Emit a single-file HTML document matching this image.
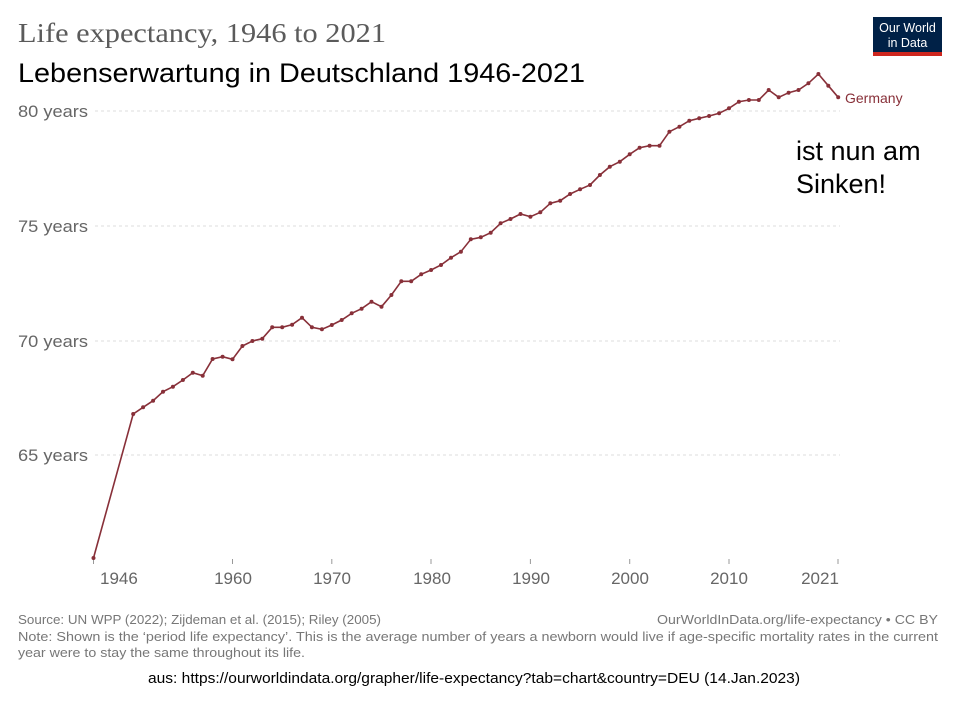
<!DOCTYPE html>
<html><head><meta charset="utf-8"><style>
html,body{margin:0;padding:0;background:#fff;width:960px;height:703px;overflow:hidden}
svg{display:block}
</style></head><body>
<svg width="960" height="703" viewBox="0 0 960 703" xmlns="http://www.w3.org/2000/svg">
<text x="18" y="42" font-family="Liberation Serif, serif" font-size="27" fill="#5b5b5b" textLength="368" lengthAdjust="spacingAndGlyphs">Life expectancy, 1946 to 2021</text>
<text x="18" y="82" font-family="Liberation Sans, sans-serif" font-size="27" fill="#000" textLength="567" lengthAdjust="spacingAndGlyphs">Lebenserwartung in Deutschland 1946-2021</text>
<rect x="873" y="17" width="69" height="35" fill="#002147"/>
<rect x="873" y="52" width="69" height="4" fill="#ce261e"/>
<text x="907.5" y="32" text-anchor="middle" font-family="Liberation Sans, sans-serif" font-size="12.5" fill="#fff">Our World</text>
<text x="907.5" y="47" text-anchor="middle" font-family="Liberation Sans, sans-serif" font-size="12.5" fill="#fff">in Data</text>
<g stroke="#ddd" stroke-dasharray="3,3" stroke-width="1">
<line x1="95" y1="111" x2="840" y2="111"/>
<line x1="95" y1="226" x2="840" y2="226"/>
<line x1="95" y1="341" x2="840" y2="341"/>
<line x1="95" y1="455" x2="840" y2="455"/>
</g>
<g font-family="Liberation Sans, sans-serif" font-size="17" fill="#666">
<text x="18" y="117" textLength="70" lengthAdjust="spacingAndGlyphs">80 years</text>
<text x="18" y="232" textLength="70" lengthAdjust="spacingAndGlyphs">75 years</text>
<text x="18" y="347" textLength="70" lengthAdjust="spacingAndGlyphs">70 years</text>
<text x="18" y="461" textLength="70" lengthAdjust="spacingAndGlyphs">65 years</text>
<text x="100" y="584">1946</text>
<text x="233" y="584" text-anchor="middle">1960</text>
<text x="332" y="584" text-anchor="middle">1970</text>
<text x="432" y="584" text-anchor="middle">1980</text>
<text x="531" y="584" text-anchor="middle">1990</text>
<text x="630" y="584" text-anchor="middle">2000</text>
<text x="729" y="584" text-anchor="middle">2010</text>
<text x="820" y="584" text-anchor="middle">2021</text>
</g>
<g stroke="#999" stroke-width="1">
<line x1="93.5" y1="559" x2="93.5" y2="564"/><line x1="232.5" y1="559" x2="232.5" y2="564"/><line x1="331.8" y1="559" x2="331.8" y2="564"/><line x1="431" y1="559" x2="431" y2="564"/><line x1="530.4" y1="559" x2="530.4" y2="564"/><line x1="629.7" y1="559" x2="629.7" y2="564"/><line x1="729" y1="559" x2="729" y2="564"/><line x1="838" y1="559" x2="838" y2="564"/>
</g>
<text x="845" y="103" font-family="Liberation Sans, sans-serif" font-size="14" fill="#883039">Germany</text>
<text x="796" y="160" font-family="Liberation Sans, sans-serif" font-size="27" fill="#000">ist nun am</text>
<text x="796" y="193" font-family="Liberation Sans, sans-serif" font-size="27" fill="#000">Sinken!</text>
<g font-family="Liberation Sans, sans-serif" font-size="13" fill="#777">
<text x="18" y="624" textLength="363" lengthAdjust="spacingAndGlyphs">Source: UN WPP (2022); Zijdeman et al. (2015); Riley (2005)</text>
<text x="657" y="624" textLength="281" lengthAdjust="spacingAndGlyphs">OurWorldInData.org/life-expectancy • CC BY</text>
<text x="18" y="641" textLength="920" lengthAdjust="spacingAndGlyphs">Note: Shown is the ‘period life expectancy’. This is the average number of years a newborn would live if age-specific mortality rates in the current</text>
<text x="18" y="657" textLength="287" lengthAdjust="spacingAndGlyphs">year were to stay the same throughout its life.</text>
</g>
<text x="148" y="683" font-family="Liberation Sans, sans-serif" font-size="15" fill="#000" textLength="652" lengthAdjust="spacingAndGlyphs">aus: https://ourworldindata.org/grapher/life-expectancy?tab=chart&amp;country=DEU (14.Jan.2023)</text>
<polyline fill="none" stroke="#883039" stroke-width="1.6" points="93.5,558 133.2,414 143.1,407.3 153.1,400.7 163,391.7 172.9,386.7 182.9,380 192.8,372.7 202.7,375.7 212.6,359 222.6,356.7 232.5,359.3 242.4,346 252.4,341 262.3,338.7 272.2,327.3 282.2,327.3 292.1,324.7 302,317.7 311.9,327.3 321.9,329.3 331.8,325 341.7,320 351.7,313.3 361.6,308.7 371.5,301.7 381.5,306.7 391.4,295 401.3,281.3 411.2,281.3 421.2,274.3 431.1,270 441,265 451,257.7 460.9,251.7 470.8,239.3 480.8,237.3 490.7,232.7 500.6,223.3 510.5,219 520.5,214 530.4,216.7 540.3,212.3 550.3,203.3 560.2,200.7 570.1,194 580.1,189.3 590,185 599.9,175 609.8,166.7 619.8,161.7 629.7,154.3 639.6,147.7 649.6,145.7 659.5,145.7 669.4,131.7 679.4,126.7 689.3,120.7 699.2,118.3 709.1,116 719.1,113.3 729,108.3 738.9,101.7 748.9,100 758.8,100 768.7,90 778.7,97.3 788.6,92.7 798.5,90 808.4,83.3 818.4,74 828.3,85.7 838.2,97.3"/>
<g fill="#883039">
<circle cx="93.5" cy="558" r="2"/><circle cx="133.2" cy="414" r="2"/><circle cx="143.1" cy="407.3" r="2"/><circle cx="153.1" cy="400.7" r="2"/><circle cx="163" cy="391.7" r="2"/><circle cx="172.9" cy="386.7" r="2"/><circle cx="182.9" cy="380" r="2"/><circle cx="192.8" cy="372.7" r="2"/><circle cx="202.7" cy="375.7" r="2"/><circle cx="212.6" cy="359" r="2"/><circle cx="222.6" cy="356.7" r="2"/><circle cx="232.5" cy="359.3" r="2"/><circle cx="242.4" cy="346" r="2"/><circle cx="252.4" cy="341" r="2"/><circle cx="262.3" cy="338.7" r="2"/><circle cx="272.2" cy="327.3" r="2"/><circle cx="282.2" cy="327.3" r="2"/><circle cx="292.1" cy="324.7" r="2"/><circle cx="302" cy="317.7" r="2"/><circle cx="311.9" cy="327.3" r="2"/><circle cx="321.9" cy="329.3" r="2"/><circle cx="331.8" cy="325" r="2"/><circle cx="341.7" cy="320" r="2"/><circle cx="351.7" cy="313.3" r="2"/><circle cx="361.6" cy="308.7" r="2"/><circle cx="371.5" cy="301.7" r="2"/><circle cx="381.5" cy="306.7" r="2"/><circle cx="391.4" cy="295" r="2"/><circle cx="401.3" cy="281.3" r="2"/><circle cx="411.2" cy="281.3" r="2"/><circle cx="421.2" cy="274.3" r="2"/><circle cx="431.1" cy="270" r="2"/><circle cx="441" cy="265" r="2"/><circle cx="451" cy="257.7" r="2"/><circle cx="460.9" cy="251.7" r="2"/><circle cx="470.8" cy="239.3" r="2"/><circle cx="480.8" cy="237.3" r="2"/><circle cx="490.7" cy="232.7" r="2"/><circle cx="500.6" cy="223.3" r="2"/><circle cx="510.5" cy="219" r="2"/><circle cx="520.5" cy="214" r="2"/><circle cx="530.4" cy="216.7" r="2"/><circle cx="540.3" cy="212.3" r="2"/><circle cx="550.3" cy="203.3" r="2"/><circle cx="560.2" cy="200.7" r="2"/><circle cx="570.1" cy="194" r="2"/><circle cx="580.1" cy="189.3" r="2"/><circle cx="590" cy="185" r="2"/><circle cx="599.9" cy="175" r="2"/><circle cx="609.8" cy="166.7" r="2"/><circle cx="619.8" cy="161.7" r="2"/><circle cx="629.7" cy="154.3" r="2"/><circle cx="639.6" cy="147.7" r="2"/><circle cx="649.6" cy="145.7" r="2"/><circle cx="659.5" cy="145.7" r="2"/><circle cx="669.4" cy="131.7" r="2"/><circle cx="679.4" cy="126.7" r="2"/><circle cx="689.3" cy="120.7" r="2"/><circle cx="699.2" cy="118.3" r="2"/><circle cx="709.1" cy="116" r="2"/><circle cx="719.1" cy="113.3" r="2"/><circle cx="729" cy="108.3" r="2"/><circle cx="738.9" cy="101.7" r="2"/><circle cx="748.9" cy="100" r="2"/><circle cx="758.8" cy="100" r="2"/><circle cx="768.7" cy="90" r="2"/><circle cx="778.7" cy="97.3" r="2"/><circle cx="788.6" cy="92.7" r="2"/><circle cx="798.5" cy="90" r="2"/><circle cx="808.4" cy="83.3" r="2"/><circle cx="818.4" cy="74" r="2"/><circle cx="828.3" cy="85.7" r="2"/><circle cx="838.2" cy="97.3" r="2"/>
</g>
</svg>
</body></html>
